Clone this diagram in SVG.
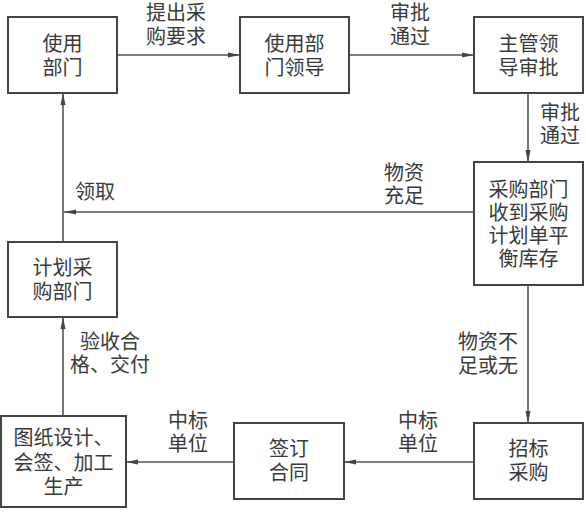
<svg xmlns="http://www.w3.org/2000/svg" width="586" height="512" viewBox="0 0 586 512">
<defs>
<style>
.box{fill:#fff;stroke:#444;stroke-width:2}
.t{font-family:"Liberation Sans","Noto Sans CJK SC",sans-serif;font-size:20px;fill:#3a3a3a;text-anchor:middle;dominant-baseline:central}
.c{fill:none;stroke:#555;stroke-width:1.6}
</style>
<marker id="ah" viewBox="0 0 12 6" refX="12" refY="3" markerWidth="12" markerHeight="6" markerUnits="userSpaceOnUse" orient="auto">
<path d="M0,0.5 L12,3 L0,5.5 Z" fill="#444"/>
</marker>
</defs>
<rect width="586" height="512" fill="#fff"/>
<g id="connectors">
<line class="c" x1="117" y1="55" x2="240" y2="55" marker-end="url(#ah)"/>
<line class="c" x1="349" y1="55" x2="474" y2="55" marker-end="url(#ah)"/>
<line class="c" x1="528" y1="93" x2="528" y2="162" marker-end="url(#ah)"/>
<line class="c" x1="474" y1="212" x2="64" y2="212" marker-end="url(#ah)"/>
<line class="c" x1="63" y1="242" x2="63" y2="93" marker-end="url(#ah)"/>
<line class="c" x1="63" y1="416" x2="63" y2="317" marker-end="url(#ah)"/>
<line class="c" x1="528" y1="285" x2="528" y2="423" marker-end="url(#ah)"/>
<line class="c" x1="474" y1="462" x2="344" y2="462" marker-end="url(#ah)"/>
<line class="c" x1="234" y1="462" x2="126" y2="462" marker-end="url(#ah)"/>
<text class="t" x="176" y="13">提出采<tspan x="176" dy="24">购要求</tspan></text>
<text class="t" x="410" y="13">审批<tspan x="410" dy="24">通过</tspan></text>
<text class="t" x="560" y="113">审批<tspan x="560" dy="23">通过</tspan></text>
<text class="t" x="404" y="173">物资<tspan x="404" dy="23">充足</tspan></text>
<text class="t" x="95" y="192">领取</text>
<text class="t" x="488" y="342">物资不<tspan x="488" dy="24">足或无</tspan></text>
<text class="t" x="418" y="421">中标<tspan x="418" dy="23">单位</tspan></text>
<text class="t" x="188" y="421">中标<tspan x="188" dy="23">单位</tspan></text>
<text class="t" x="110" y="342">验收合<tspan x="110" dy="23">格、交付</tspan></text>
</g>
<g id="n1">
<rect class="box" x="8" y="17" width="109" height="76"/>
<text class="t" x="62.5" y="44">使用<tspan x="62.5" dy="24">部门</tspan></text>
</g>
<g id="n2">
<rect class="box" x="240" y="17" width="109" height="76"/>
<text class="t" x="294.5" y="44">使用部<tspan x="294.5" dy="24">门领导</tspan></text>
</g>
<g id="n3">
<rect class="box" x="474" y="17" width="109" height="76"/>
<text class="t" x="528.5" y="44">主管领<tspan x="528.5" dy="24">导审批</tspan></text>
</g>
<g id="n4">
<rect class="box" x="474" y="162" width="109" height="123"/>
<text class="t" x="528.5" y="190">采购部门<tspan x="528.5" dy="23">收到采购</tspan><tspan x="528.5" dy="23">计划单平</tspan><tspan x="528.5" dy="23">衡库存</tspan></text>
</g>
<g id="n5">
<rect class="box" x="8" y="242" width="109" height="75"/>
<text class="t" x="62.5" y="268">计划采<tspan x="62.5" dy="24">购部门</tspan></text>
</g>
<g id="n6">
<rect class="box" x="1" y="416" width="125" height="91"/>
<text class="t" x="63.5" y="438">图纸设计、<tspan x="63.5" dy="25">会签、加工</tspan><tspan x="63.5" dy="24">生产</tspan></text>
</g>
<g id="n7">
<rect class="box" x="234" y="423" width="110" height="76"/>
<text class="t" x="289" y="449">签订<tspan x="289" dy="24">合同</tspan></text>
</g>
<g id="n8">
<rect class="box" x="474" y="423" width="109" height="76"/>
<text class="t" x="528.5" y="449">招标<tspan x="528.5" dy="24">采购</tspan></text>
</g>
</svg>
